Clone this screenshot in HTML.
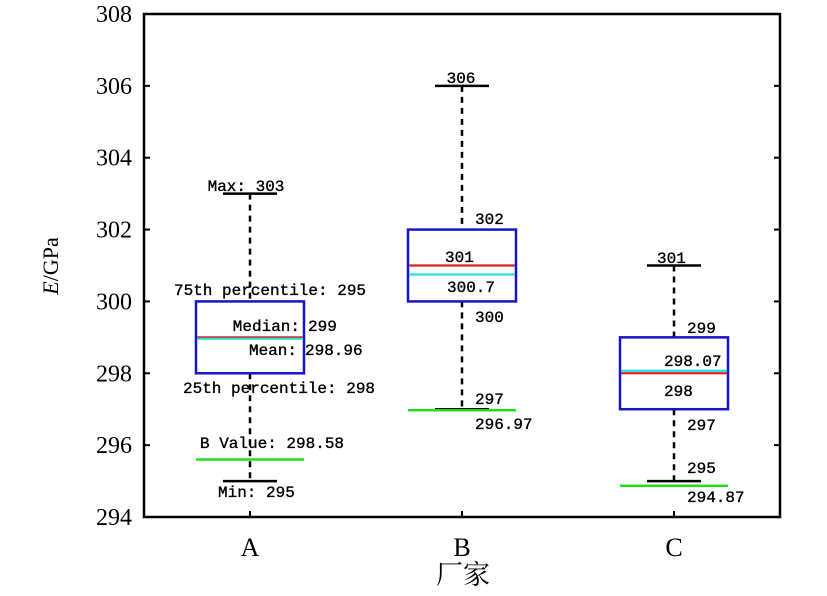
<!DOCTYPE html>
<html><head><meta charset="utf-8"><style>
body{margin:0;background:#fff}
svg text{font-family:"Liberation Mono","Noto Sans CJK SC",monospace}
</style></head><body>
<svg id="chart" width="827" height="591" viewBox="0 0 827 591" xmlns="http://www.w3.org/2000/svg">
<g id="marks"></g>
</svg>
<script>
const categories=["A","B","C"];
const maxVals=[303,306,301];
const q3Vals=[300,302,299];
const medianVals=[299,301,298];
const meanVals=[298.96,300.75,298.07];
const q1Vals=[298,300,297];
const minVals=[295,297,295];
const bValueVals=[295.6,296.97,294.87];
const yTicks=[294,296,298,300,302,304,306,308];

const L=144,R=780,T=14,B=517,yMin=294,yMax=308;
const y=v=>B-(v-yMin)/(yMax-yMin)*(B-T);
const band=(R-L)/categories.length;
const x=i=>L+band*(i+0.5);
const NS="http://www.w3.org/2000/svg";
const g=document.getElementById('marks');
function mk(tag,attrs,parent){const e=document.createElementNS(NS,tag);for(const k in attrs)e.setAttribute(k,attrs[k]);(parent||g).appendChild(e);return e;}
function line(x1,y1,x2,y2,stroke,w,dash,name){const e=mk('line',{x1,y1,x2,y2,stroke,'stroke-width':w});if(dash)e.setAttribute('stroke-dasharray',dash);


return e;}
function txt(s,tx,ty,size,anchor,name,extra){const e=mk('text',{x:tx,y:ty,'font-size':size,'text-anchor':anchor||'start',fill:'#000'});e.textContent=s;


if(extra)for(const k in extra)e.setAttribute(k,extra[k]);return e;}

const fr=mk('rect',{x:L,y:T,width:R-L,height:B-T,fill:'none',stroke:'#000','stroke-width':2.5});


yTicks.forEach(t=>{
  line(L,y(t),L+6,y(t),'#000',2,null,'y-tick');
  line(R,y(t),R-6,y(t),'#000',2,null,'y-tick-right');
  txt(String(t),132,y(t)+8,24,'end','y-tick-label',{style:'font-family:"Liberation Serif",serif'});
});
categories.forEach((c,i)=>{
  line(x(i),B,x(i),B-6,'#000',2,null,'x-tick');
  txt(c,x(i),556,26,'middle','x-tick-label',{style:'font-family:"Liberation Serif",serif'});
});
txt('厂家',463,584,27,'middle','x-axis-title',{style:'font-family:"Liberation Serif","Noto Serif CJK SC",serif'});
const yl=txt('',58,266,22,'middle','y-axis-title',{transform:'rotate(-90 58 266)',style:'font-family:"Liberation Serif",serif'});
yl.innerHTML='<tspan font-style="italic">E</tspan>/GPa';

const hw=54,cw=27;
categories.forEach((c,i)=>{
  const cx=x(i);
  line(cx,y(maxVals[i]),cx,y(q3Vals[i]),'#000',2.5,'6,5','upper-whisker');
  line(cx,y(q1Vals[i]),cx,y(minVals[i]),'#000',2.5,'6,5','lower-whisker');
  line(cx-cw,y(maxVals[i]),cx+cw,y(maxVals[i]),'#000',2.5,null,'max-cap');
  line(cx-cw,y(minVals[i]),cx+cw,y(minVals[i]),'#000',2.5,null,'min-cap');
  line(cx-hw,y(bValueVals[i]),cx+hw,y(bValueVals[i]),'#22dd22',2.5,null,'b-value-line');
  const r=mk('rect',{x:cx-hw,y:y(q3Vals[i]),width:2*hw,height:y(q1Vals[i])-y(q3Vals[i]),fill:'none',stroke:'#1515cc','stroke-width':2.5});
  
  
  line(cx-hw+1,y(medianVals[i]),cx+hw-1,y(medianVals[i]),'#dd2222',2.2,null,'median-line');
  line(cx-hw+1,y(meanVals[i]),cx+hw-1,y(meanVals[i]),'#22e0e0',2.2,null,'mean-line');
});

const fs=16;
const st={stroke:'#000','stroke-width':0.35};
txt('Max: 303',246,191,fs,'middle','label-max-a',st);
txt('75th percentile: 295',270,295,fs,'middle','label-q3-a',st);
txt('Median:',300,331,fs,'end','label-median-a',st);
txt('299',308,331,fs,'start','label-median-val-a',st);
txt('Mean:',297,355,fs,'end','label-mean-a',st);
txt('298.96',305,355,fs,'start','label-mean-val-a',st);
txt('25th percentile: 298',183,393,fs,'start','label-q1-a',st);
txt('B Value: 298.58',200,448,fs,'start','label-bvalue-a',st);
txt('Min: 295',218,497,fs,'start','label-min-a',st);
txt('306',461,83,fs,'middle','label-max-b',st);
txt('302',475,224,fs,'start','label-q3-b',st);
txt('301',445,262,fs,'start','label-median-b',st);
txt('300.7',447,292,fs,'start','label-mean-b',st);
txt('300',475,322,fs,'start','label-q1-b',st);
txt('297',475,404,fs,'start','label-min-b',st);
txt('296.97',475,429,fs,'start','label-bvalue-b',st);
txt('301',657,263,fs,'start','label-max-c',st);
txt('299',687,333,fs,'start','label-q3-c',st);
txt('298.07',664,366,fs,'start','label-mean-c',st);
txt('298',664,396,fs,'start','label-median-c',st);
txt('297',687,430,fs,'start','label-q1-c',st);
txt('295',687,473,fs,'start','label-min-c',st);
txt('294.87',687,502,fs,'start','label-bvalue-c',st);
</script>
</body></html>
